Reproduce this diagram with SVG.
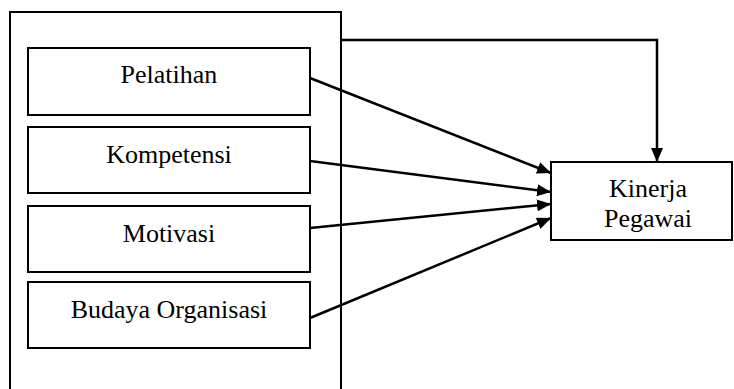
<svg xmlns="http://www.w3.org/2000/svg" width="734" height="389" viewBox="0 0 734 389">
<style>
.box{fill:#fff;stroke:#000;stroke-width:2}
.t{font-family:"Liberation Serif","Times New Roman",serif;font-size:26px;fill:#000;text-anchor:middle}
.c{fill:none;stroke:#000;stroke-width:2.5}
</style>
<defs>
<marker id="ah" viewBox="0 0 14 12" refX="14" refY="6" markerWidth="14" markerHeight="12" markerUnits="userSpaceOnUse" orient="auto">
<path d="M0,0 L14,6 L0,12 Z" fill="#000"/>
</marker>
</defs>
<g id="outer"><rect class="box" x="10" y="12" width="331" height="390" fill="none"/></g>
<g id="pelatihan"><rect class="box" x="28" y="48" width="282" height="67"/><text class="t" x="169" y="83">Pelatihan</text></g>
<g id="kompetensi"><rect class="box" x="28" y="127" width="282" height="66"/><text class="t" x="169" y="163">Kompetensi</text></g>
<g id="motivasi"><rect class="box" x="28" y="206" width="282" height="66"/><text class="t" x="169" y="242">Motivasi</text></g>
<g id="budaya"><rect class="box" x="28" y="282" width="282" height="66"/><text class="t" x="169" y="318">Budaya Organisasi</text></g>
<g id="kinerja"><rect class="box" x="551" y="162" width="181" height="78"/><text class="t" x="648" y="197">Kinerja</text><text class="t" x="648" y="227">Pegawai</text></g>
<g id="connectors">
<path class="c" d="M341,40 H657 V162" marker-end="url(#ah)"/>
<path class="c" d="M310,78 L551,173" marker-end="url(#ah)"/>
<path class="c" d="M310,161 L551,192" marker-end="url(#ah)"/>
<path class="c" d="M310,228 L551,204" marker-end="url(#ah)"/>
<path class="c" d="M310,318 L551,218" marker-end="url(#ah)"/>
</g>
</svg>
